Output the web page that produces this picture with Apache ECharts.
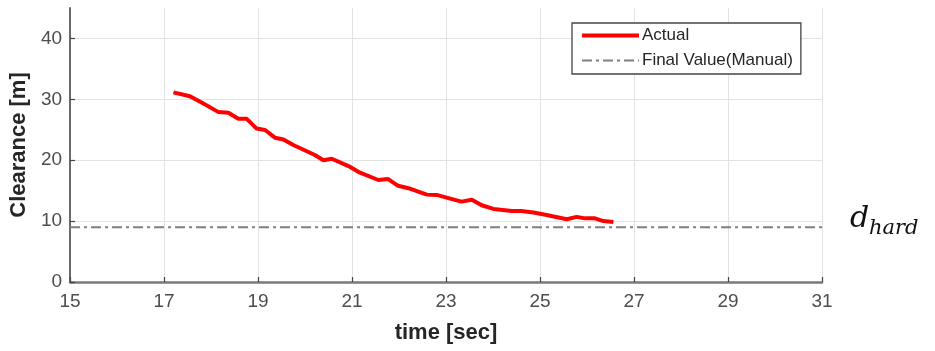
<!DOCTYPE html>
<html><head><meta charset="utf-8">
<script src="https://cdn.jsdelivr.net/npm/echarts@6/dist/echarts.min.js"></script>
<style>html,body{margin:0;padding:0;background:#fff}#c{width:935px;height:351px}</style>
</head><body><div id="c"></div>
<script>
const timeValues = [17.2, 17.55, 17.77, 18.16, 18.37, 18.58, 18.76, 18.97, 19.15, 19.36, 19.54, 19.75, 20.21, 20.39, 20.57, 20.96, 21.17, 21.56, 21.77, 21.98, 22.2, 22.59, 22.8, 23.09, 23.33, 23.55, 23.76, 24.01, 24.4, 24.6, 24.86, 25.14, 25.57, 25.78, 25.96, 26.17, 26.35, 26.56];
const clearanceValues = [31.15, 30.5, 29.6, 27.9, 27.8, 26.8, 26.8, 25.2, 24.96, 23.7, 23.4, 22.5, 20.85, 20.0, 20.25, 18.9, 17.95, 16.75, 16.9, 15.8, 15.4, 14.35, 14.3, 13.7, 13.2, 13.5, 12.6, 12.0, 11.65, 11.65, 11.4, 11.0, 10.3, 10.7, 10.45, 10.45, 10.0, 9.85];
const finalValue = 9;
const xTicks = [15, 17, 19, 21, 23, 25, 27, 29, 31];
const yTicks = [0, 10, 20, 30, 40];
const seriesNames = ['Actual', 'Final Value(Manual)'];

const actualData = timeValues.map((t, i) => [t, clearanceValues[i]]);
const finalData = [[xTicks[0], finalValue], [xTicks[xTicks.length - 1], finalValue]];

const chart = echarts.init(document.getElementById('c'), null, {renderer: 'canvas'});
const tickFont = 'Liberation Sans, Arial, sans-serif';
chart.setOption({
  animation: false,
  backgroundColor: '#fff',
  grid: {left: 70, right: 113, top: 8, bottom: 69, containLabel: false},
  legend: {
    orient: 'vertical', left: 572, top: 23,
    padding: [4, 8, 5, 8], itemGap: 8,
    itemWidth: 57, itemHeight: 14,
    borderColor: '#444', borderWidth: 1.3, backgroundColor: '#fff',
    itemStyle: {opacity: 0},
    textStyle: {fontFamily: tickFont, fontSize: 17, color: '#262626', padding: [0, 0, 0, -2]},
    data: [
      {name: seriesNames[0], lineStyle: {width: 4}},
      {name: seriesNames[1], lineStyle: {width: 2}}
    ]
  },
  xAxis: {
    type: 'value', min: 15, max: 31,
    name: 'time [sec]', nameLocation: 'middle', nameGap: 40,
    nameTextStyle: {fontFamily: tickFont, fontSize: 22, fontWeight: 'bold', color: '#262626'},
    axisLine: {show: true, onZero: false, lineStyle: {color: '#7a7a7a', width: 2.5}},
    axisTick: {show: true, inside: true, length: 5, customValues: xTicks, lineStyle: {color: '#444', width: 1.2}},
    axisLabel: {customValues: xTicks, fontFamily: tickFont, fontSize: 19, color: '#4d4d4d', margin: 10},
    splitLine: {show: true, lineStyle: {color: '#e2e2e2', width: 1}}
  },
  yAxis: {
    type: 'value', min: 0, max: 45,
    name: 'Clearance [m]', nameLocation: 'middle', nameGap: 38,
    nameTextStyle: {fontFamily: tickFont, fontSize: 22, fontWeight: 'bold', color: '#262626'},
    axisLine: {show: true, onZero: false, lineStyle: {color: '#6a6a6a', width: 2}},
    axisTick: {show: true, inside: true, length: 5, customValues: yTicks, lineStyle: {color: '#444', width: 1.2}},
    axisLabel: {customValues: yTicks, fontFamily: tickFont, fontSize: 19, color: '#4d4d4d', margin: 8},
    splitLine: {show: true, lineStyle: {color: '#e2e2e2', width: 1}}
  },
  series: [
    {
      name: seriesNames[0], type: 'line', data: actualData,
      symbol: 'none', smooth: false,
      lineStyle: {color: '#ff0000', width: 4},
      itemStyle: {color: '#ff0000'}, z: 3
    },
    {
      name: seriesNames[1], type: 'line', data: finalData,
      symbol: 'none',
      lineStyle: {color: '#7f7f7f', width: 2, type: [10, 4, 3, 4]},
      itemStyle: {color: '#7f7f7f'}, z: 2
    }
  ],
  graphic: [
    {type: 'text', left: 850, top: 204, style: {text: 'd', font: 'italic 30px "DejaVu Serif", serif', fill: '#111'}},
    {type: 'text', left: 869, top: 218, style: {text: 'hard', font: 'italic 21px "DejaVu Serif", serif', fill: '#111'}}
  ]
});
</script>
</body></html>
